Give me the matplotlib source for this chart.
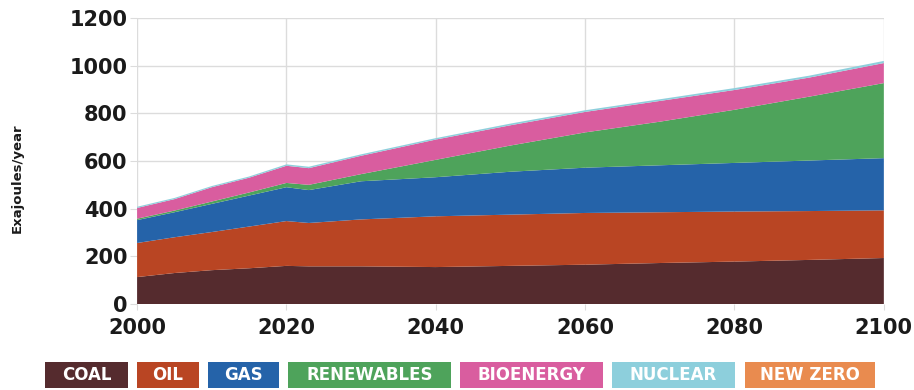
import matplotlib
matplotlib.use("Agg")
import matplotlib.pyplot as plt
from matplotlib.patches import Rectangle
import numpy as np

years = [2000, 2005, 2010, 2015, 2020, 2023, 2030, 2040, 2050, 2060, 2070, 2080, 2090, 2100]
coal = [113, 130, 142, 150, 160, 158, 158, 155, 160, 165, 172, 178, 185, 193]
oil = [143, 150, 160, 175, 188, 182, 197, 213, 215, 217, 213, 210, 205, 200]
gas = [96, 105, 118, 130, 142, 138, 160, 164, 180, 190, 197, 204, 212, 219]
renewables = [6, 7, 10, 13, 18, 22, 30, 73, 110, 148, 183, 223, 268, 315]
bioenergy = [45, 48, 60, 62, 72, 70, 77, 85, 85, 86, 87, 83, 80, 84]
nuclear = [5, 5, 5, 5, 6, 6, 6, 6, 7, 7, 7, 8, 8, 9]
new_zero = [0, 0, 0, 0, 0, 0, 0, 0, 0, 0, 0, 0, 0, 0]

labels = ["COAL", "OIL", "GAS", "RENEWABLES", "BIOENERGY", "NUCLEAR", "NEW ZERO"]
colors = ["#552b2e", "#b94523", "#2563a9", "#4ea35b", "#d95d9f", "#8dcfdc", "#e98b4f"]
series = [coal, oil, gas, renewables, bioenergy, nuclear, new_zero]

yticks = [0, 200, 400, 600, 800, 1000, 1200]
xticks = [2000, 2020, 2040, 2060, 2080, 2100]

fig = plt.figure(figsize=(9.14, 3.9), dpi=100)
ax = fig.add_axes([0.150, 0.2205, 0.817, 0.7333])

ax.stackplot(years, *series, colors=colors, linewidth=0)
ax.set_xlim(2000, 2100)
ax.set_ylim(0, 1200)
ax.set_xticks(xticks)
ax.set_yticks(yticks)
ax.grid(True, color="#dcdcdc", linewidth=1)
ax.set_axisbelow(True)
for s in ax.spines.values():
    s.set_visible(False)
ax.tick_params(axis="y", length=5, color="#dcdcdc", pad=2)
ax.tick_params(axis="x", length=4, color="#dcdcdc", pad=6)
for lab in ax.get_xticklabels() + ax.get_yticklabels():
    lab.set_fontfamily("DejaVu Sans")
    lab.set_fontweight("bold")
    lab.set_fontsize(15)
    lab.set_color("#1a1a1a")
ax.set_ylabel("Exajoules/year", fontfamily="DejaVu Sans", fontweight="bold",
              fontsize=9.5, color="#1a1a1a")
ax.yaxis.set_label_coords(-0.152, 0.44)

# legend boxes
boxes = [(45, 128), (137, 199), (208, 279), (288, 451), (460, 603), (612, 735), (745, 875)]
W, H = 914.0, 390.0
y0, y1 = 362, 388
for (x0, x1), lab, c in zip(boxes, labels, colors):
    fig.patches.append(Rectangle((x0 / W, 1 - y1 / H), (x1 - x0) / W, (y1 - y0) / H,
                                 transform=fig.transFigure, facecolor=c, edgecolor="none"))
    fig.text((x0 + x1) / 2 / W, 1 - (y0 + y1) / 2 / H, lab, ha="center", va="center",
             color="white", fontfamily="DejaVu Sans", fontweight="bold", fontsize=12)

fig.savefig("out.png", dpi=100)
